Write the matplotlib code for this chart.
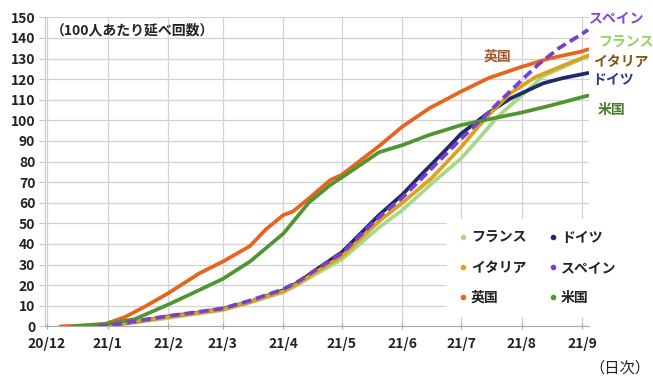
import matplotlib
matplotlib.use("Agg")
import matplotlib.pyplot as plt
from matplotlib.lines import Line2D
import pandas as pd

plt.rcParams['font.family'] = ['Noto Sans CJK JP', 'DejaVu Sans']

# ---------------- data ----------------
france_dates = ["2020-12-27", "2021-01-01", "2021-01-15", "2021-02-01", "2021-02-15",
                "2021-03-01", "2021-03-15", "2021-04-01", "2021-04-09", "2021-04-17",
                "2021-05-01", "2021-05-20", "2021-06-01", "2021-06-18", "2021-07-01",
                "2021-07-09", "2021-07-20", "2021-08-01", "2021-08-12", "2021-09-01",
                "2021-09-04"]
france = [0, 0.1, 1.8, 4.0, 6.0, 7.8, 11.5, 16.5, 20.5, 25.0, 32.5, 48.0, 56.5,
          71.0, 81.5, 90.0, 102.0, 112.0, 121.5, 130.0, 131.0]

germany_dates = ["2020-12-27", "2021-01-01", "2021-01-15", "2021-02-01", "2021-02-15",
                 "2021-03-01", "2021-03-15", "2021-04-01", "2021-04-09", "2021-04-17",
                 "2021-05-01", "2021-05-20", "2021-06-01", "2021-06-10", "2021-06-23",
                 "2021-07-01", "2021-07-14", "2021-07-26", "2021-08-04", "2021-08-12",
                 "2021-08-22", "2021-09-04"]
germany = [0, 0.4, 2.2, 4.8, 6.5, 8.5, 12.0, 17.5, 21.5, 27.0, 36.0, 54.0, 64.0,
           73.0, 85.5, 93.5, 103.0, 110.5, 114.5, 118.0, 120.5, 123.0]

italy_dates = ["2020-12-27", "2021-01-01", "2021-01-15", "2021-02-01", "2021-02-15",
               "2021-03-01", "2021-03-15", "2021-04-01", "2021-04-09", "2021-04-17",
               "2021-05-01", "2021-05-20", "2021-06-01", "2021-06-16", "2021-07-01",
               "2021-07-14", "2021-07-26", "2021-08-08", "2021-08-22", "2021-09-04"]
italy = [0, 0.2, 2.3, 4.5, 6.3, 8.2, 12.0, 17.0, 21.0, 26.0, 34.0, 51.0, 60.0,
         72.0, 87.0, 101.5, 113.0, 121.0, 126.5, 131.5]

spain_dates = ["2020-12-27", "2021-01-01", "2021-01-15", "2021-02-01", "2021-02-15",
               "2021-03-01", "2021-03-15", "2021-04-01", "2021-04-09", "2021-04-17",
               "2021-05-01", "2021-05-20", "2021-06-01", "2021-06-10", "2021-06-20",
               "2021-07-01", "2021-07-11", "2021-07-20", "2021-08-01", "2021-08-10",
               "2021-08-20", "2021-09-01", "2021-09-04"]
spain = [0, 0.3, 2.5, 5.0, 6.8, 8.7, 12.5, 18.0, 22.0, 27.0, 35.5, 53.0, 62.5,
         71.0, 80.5, 91.0, 100.0, 108.5, 119.5, 127.5, 135.0, 142.0, 144.0]

uk_dates = ["2020-12-08", "2020-12-15", "2020-12-31", "2021-01-10", "2021-01-20",
            "2021-02-01", "2021-02-17", "2021-03-01", "2021-03-15", "2021-03-23",
            "2021-04-01", "2021-04-06", "2021-04-14", "2021-04-25", "2021-05-01",
            "2021-05-20", "2021-06-01", "2021-06-15", "2021-07-01", "2021-07-15",
            "2021-08-01", "2021-08-15", "2021-09-01", "2021-09-04"]
uk = [0, 0.2, 1.2, 4.5, 9.5, 16.0, 25.7, 31.4, 39.0, 47.0, 54.0, 55.8, 62.0,
      71.0, 73.6, 87.5, 97.0, 106.0, 114.0, 120.5, 126.0, 130.0, 133.5, 134.5]

us_dates = ["2020-12-14", "2020-12-20", "2021-01-01", "2021-01-15", "2021-02-01",
            "2021-02-17", "2021-03-01", "2021-03-15", "2021-04-01", "2021-04-14",
            "2021-04-25", "2021-05-01", "2021-05-20", "2021-06-01", "2021-06-15",
            "2021-07-01", "2021-07-15", "2021-08-01", "2021-08-15", "2021-09-01",
            "2021-09-04"]
us = [0, 0.2, 1.2, 3.5, 10.5, 17.6, 23.0, 31.5, 45.0, 60.0, 68.6, 72.3, 84.5,
      88.0, 93.0, 97.7, 100.5, 103.8, 107.0, 111.3, 112.0]

month_ticks = ["2020-12-01", "2021-01-01", "2021-02-01", "2021-03-01", "2021-04-01",
               "2021-05-01", "2021-06-01", "2021-07-01", "2021-08-01", "2021-09-01"]
month_labels = ["20/12", "21/1", "21/2", "21/3", "21/4", "21/5", "21/6", "21/7",
                "21/8", "21/9"]

# ---------------- style ----------------
line_colors = {"フランス": "#a8d98a", "ドイツ": "#1f2a6e", "イタリア": "#dca21c",
               "スペイン": "#7b3fcb", "英国": "#e8641e", "米国": "#4f9632"}
label_colors = {"フランス": "#94d064", "ドイツ": "#2b3b8c", "イタリア": "#7a5b14",
                "スペイン": "#8445d2", "英国": "#a65a2c", "米国": "#4e7a30"}

W, H = 653, 380
fig = plt.figure(figsize=(W / 100, H / 100), dpi=100)
ax = fig.add_axes([45 / W, 1 - 326.3 / H, (589 - 45) / W, (326.3 - 17.4) / H])

series = [
    ("フランス", france_dates, france),
    ("ドイツ", germany_dates, germany),
    ("イタリア", italy_dates, italy),
    ("スペイン", spain_dates, spain),
    ("英国", uk_dates, uk),
    ("米国", us_dates, us),
]
lw = 2.7
for name, d, v in series:
    x = pd.to_datetime(d)
    if name == "スペイン":
        ax.plot(x, v, color=line_colors[name], lw=lw, dashes=(2.6, 1.3),
                solid_capstyle='butt', zorder=5)
    else:
        ax.plot(x, v, color=line_colors[name], lw=lw, solid_capstyle='round',
                solid_joinstyle='round', zorder=3)

ax.set_ylim(0, 150)
ax.set_yticks(range(0, 151, 10))
ax.set_xlim(pd.Timestamp("2020-11-30"), pd.Timestamp("2021-09-04 12:00"))
ax.set_xticks(pd.to_datetime(month_ticks))
ax.set_xticklabels(month_labels)

ax.grid(True, color="#d2d2d2", lw=0.9)
ax.set_axisbelow(True)
for s in ["top", "right"]:
    ax.spines[s].set_visible(False)
ax.spines["left"].set_color("#c8c8c8")
ax.spines["bottom"].set_color("#a8a8a8")
ax.tick_params(axis="y", length=4, color="#c8c8c8", pad=3, labelsize=10)
ax.tick_params(axis="x", length=4, direction="inout", color="#a8a8a8", pad=6,
               labelsize=10)
for lab in ax.get_xticklabels() + ax.get_yticklabels():
    lab.set_fontweight("bold")
    lab.set_color("#222222")

# annotations
ax.text(pd.Timestamp("2020-12-03"), 143.5, "（100人あたり延べ回数）", fontsize=10,
        fontweight="bold", color="#222222", va="center", ha="left")
fig.text(497 / W, 1 - 57 / H, "英国", color=label_colors["英国"], fontsize=10,
         fontweight="bold", ha="center", va="center")
for name, (px, py) in {"スペイン": (617, 18), "フランス": (626, 43),
                       "イタリア": (621, 62), "ドイツ": (613, 80),
                       "米国": (611, 110)}.items():
    fig.text(px / W, 1 - py / H, name, color=label_colors[name], fontsize=10,
             fontweight="bold", ha="center", va="center")
fig.text(650 / W, 1 - 368 / H, "（日次）", fontsize=11, color="#222222",
         ha="right", va="center")

# legend
order = ["フランス", "イタリア", "英国", "ドイツ", "スペイン", "米国"]
handles = [Line2D([], [], ls="none", marker="o", markersize=3,
                  color=line_colors[n]) for n in order]
leg = fig.legend(handles, order, loc="center", ncol=2,
                 bbox_to_anchor=(538 / W, 1 - 268 / H),
                 fontsize=10, handlelength=0.5, handletextpad=0.3,
                 columnspacing=1.7, labelspacing=1.15, borderpad=0.9,
                 frameon=True, facecolor="white", edgecolor="none",
                 framealpha=1.0, fancybox=False)
for t in leg.get_texts():
    t.set_fontweight("bold")
    t.set_color("#222222")

fig.savefig("out.png", dpi=100)
